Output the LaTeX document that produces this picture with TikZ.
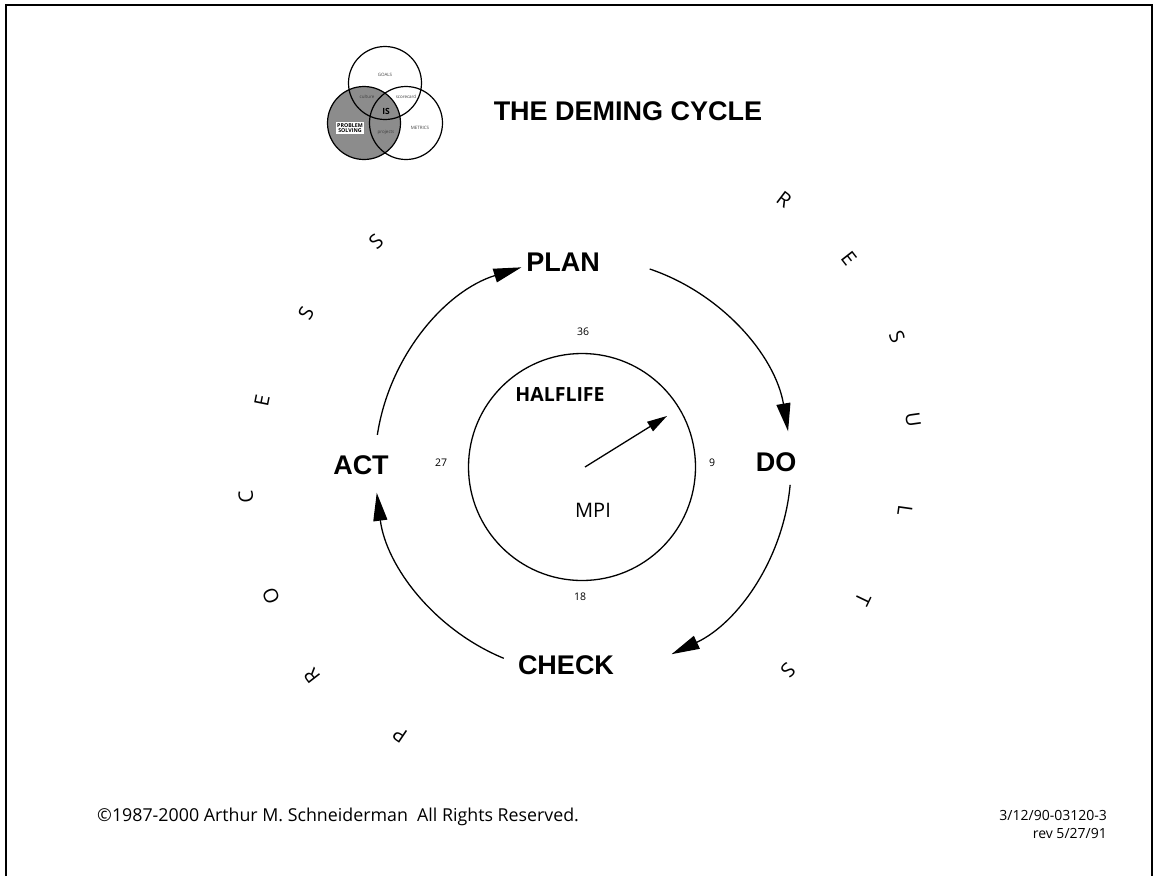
\documentclass[tikz,border=0pt]{standalone}
\usepackage{fontspec}
\setmainfont{Open Sans}
\newfontfamily\arialfont{Liberation Sans}
\usetikzlibrary{arrows.meta,calc}

\begin{document}
\begin{tikzpicture}[x=1pt,y=1pt,
  stage/.style={font=\arialfont\bfseries\fontsize{27}{27}\selectfont, inner sep=0pt},
  flow/.style={line width=1.3pt, -{Triangle[length=28pt,width=14pt]}},
  needlearrow/.style={line width=1.3pt, -{Triangle[length=20pt,width=11pt]}},
  tick/.style={font=\fontsize{10.5}{10.5}\selectfont, inner sep=0pt},
  rim/.style={font=\fontsize{20}{20}\selectfont, inner sep=0pt},
  ring/.style={line width=1.2pt},
  tiny/.style={font=\fontsize{4.5}{4.5}\selectfont, inner sep=0pt, text=black!75},
  footer/.style={font=\fontsize{17.8}{17.8}\selectfont, inner sep=0pt}
]
\useasboundingbox (0,0) rectangle (1154,-876);

% page frame
\draw[line width=2pt] (6,-876) -- (6,-5);
\draw[line width=1.4pt] (5,-5) -- (1152,-5) -- (1152,-876);

% logo: three overlapping circles
\fill[black!45] (364,-123) circle[radius=36.5];
\draw[ring] (385,-83) circle[radius=36.5];
\draw[ring] (364,-123) circle[radius=36.5];
\draw[ring] (406,-123) circle[radius=36.5];
\node[tiny] (goals) at (385,-75) {GOALS};
\node[tiny] (culture) at (367,-97) {culture};
\node[tiny] (scorecard) at (406,-97) {scorecard};
\node[font=\bfseries\fontsize{8.5}{8.5}\selectfont, inner sep=0pt] (is) at (386,-111) {IS};
\node[tiny] (projects) at (386,-132) {projects};
\node[tiny] (metrics) at (420,-128) {METRICS};
\node[fill=white, inner sep=1.2pt, align=center,
      font=\bfseries\fontsize{5.3}{5.6}\selectfont] (ps) at (350,-128) {PROBLEM\\SOLVING};

% title
\node[font=\arialfont\bfseries\fontsize{27}{27}\selectfont, inner sep=0pt] (title) at (628,-111) {THE DEMING CYCLE};

% cycle stages
\coordinate (C) at (583,-466);
\node[stage] (plan) at (563,-262) {PLAN};
\node[stage] (do) at (776,-462) {DO};
\node[stage] (check) at (566,-665) {CHECK};
\node[stage] (act) at (361,-465) {ACT};

% clockwise connectors between stages
\coordinate (a1) at ($(C)+(71.3:208)$);
\coordinate (a2) at ($(C)+(-5.2:208)$);
\coordinate (a3) at ($(C)+(-112.4:208)$);
\coordinate (a4) at ($(C)+(171.4:208)$);
\draw[flow] (a1) arc[start angle=71.3, end angle=9.6, radius=208];
\draw[flow] (a2) arc[start angle=-5.2, end angle=-64.8, radius=208];
\draw[flow] (a3) arc[start angle=-112.4, end angle=-172.6, radius=208];
\draw[flow] (a4) arc[start angle=171.4, end angle=107.2, radius=208];

% half-life dial
\draw[line width=1.3pt] (582,-467) circle[radius=113.5];
\node[tick] (t36) at (583,-332) {36};
\node[tick] (t9) at (712,-463) {9};
\node[tick] (t18) at (580,-597) {18};
\node[tick] (t27) at (441,-463) {27};
\node[font=\bfseries\fontsize{19.5}{19.5}\selectfont, inner sep=0pt] (halflife) at (560,-395) {HALFLIFE};
\node[font=\fontsize{20}{20}\selectfont, inner sep=0pt] (mpi) at (593,-510) {MPI};
\coordinate (hub) at (585,-467);
\coordinate (needle) at (667,-416);
\draw[needlearrow] (hub) -- (needle);

% PROCESS, read upward on the left
\node[rim, rotate=145.8] (p1) at (400,-735) {P};
\node[rim, rotate=127.8] (p2) at (312,-676) {R};
\node[rim, rotate=112.6] (p3) at (271,-596) {O};
\node[rim, rotate=95.3]  (p4) at (246,-497) {C};
\node[rim, rotate=78.6]  (p5) at (262,-401) {E};
\node[rim, rotate=61.1]  (p6) at (306,-313) {S};
\node[rim, rotate=42.7]  (p7) at (376,-242) {S};

% RESULTS, read downward on the right
\node[rim, rotate=-37.1]  (r1) at (784,-200) {R};
\node[rim, rotate=-52]    (r2) at (849,-258) {E};
\node[rim, rotate=-67.7]  (r3) at (897,-337) {S};
\node[rim, rotate=-82.1]  (r4) at (913,-420) {U};
\node[rim, rotate=-98]    (r5) at (905,-511) {L};
\node[rim, rotate=-115.6] (r6) at (863,-600) {T};
\node[rim, rotate=-134.9] (r7) at (788,-670) {S};

% footer
\node[footer, anchor=west] (copy) at (97,-817) {\textcopyright1987-2000 Arthur M. Schneiderman\ \ All Rights Reserved.};
\node[font=\fontsize{14}{18}\selectfont, inner sep=0pt, align=right, anchor=north east] (ref) at (1107,-810) {3/12/90-03120-3\\rev 5/27/91};
\end{tikzpicture}
\end{document}
